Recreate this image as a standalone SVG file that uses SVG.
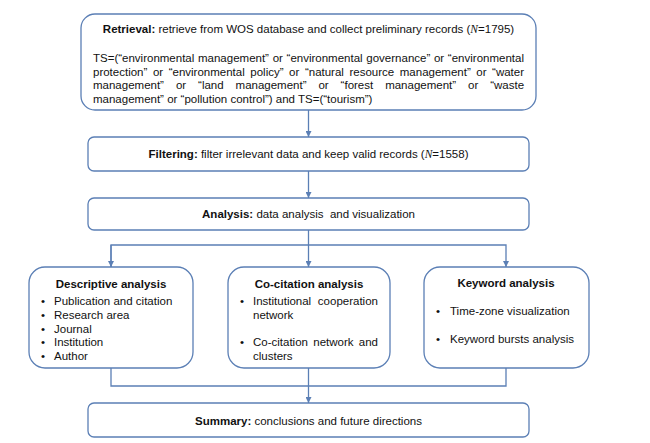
<svg xmlns="http://www.w3.org/2000/svg" width="650" height="443" viewBox="0 0 650 443">
<defs>
<style>
.box{fill:#ffffff;stroke:#5b7fb5;stroke-width:1.3}
.ln{fill:none;stroke:#5b7fb5;stroke-width:1.3}
text{font-family:"Liberation Sans",Arial,sans-serif;font-size:11.5px;fill:#111111}
.b{font-weight:bold}
.c{text-anchor:middle}
.n{font-style:italic;font-family:"Liberation Serif","Times New Roman",serif}
</style>
<marker id="ah" viewBox="0 0 10 10" refX="10" refY="5" markerWidth="6" markerHeight="6" markerUnits="userSpaceOnUse" orient="auto">
<path d="M0,0 L10,5 L0,10 z" fill="#5b7fb5"/>
</marker>
</defs>
<rect width="650" height="443" fill="#ffffff"/>
<g id="connectors">
<line class="ln" x1="308.5" y1="110" x2="308.5" y2="137" marker-end="url(#ah)"/>
<line class="ln" x1="308.5" y1="171" x2="308.5" y2="198" marker-end="url(#ah)"/>
<line class="ln" x1="308.5" y1="230" x2="308.5" y2="267" marker-end="url(#ah)"/>
<polyline class="ln" points="111,267 111,245 506,245 506,267" marker-end="url(#ah)"/>
<line class="ln" x1="111" y1="245" x2="111" y2="267" marker-end="url(#ah)"/>
<polyline class="ln" points="111,368 111,386 506,386 506,368"/>
<line class="ln" x1="308.5" y1="368" x2="308.5" y2="403" marker-end="url(#ah)"/>
</g>
<g id="retrieval">
<rect class="box" x="81" y="14" width="455" height="96" rx="14"/>
<text class="c" x="308.5" y="33"><tspan class="b">Retrieval:</tspan> retrieve from WOS database and collect preliminary records (<tspan class="n">N</tspan>=1795)</text>
<text x="93" y="62" word-spacing="0.5">TS=(“environmental management” or “environmental governance” or “environmental</text>
<text x="93" y="75.5" word-spacing="2.37">protection” or “environmental policy” or “natural resource management” or “water</text>
<text x="93" y="89" word-spacing="8.74">management” or “land management” or “forest management” or “waste</text>
<text x="93" y="102.5">management” or “pollution control”) and TS=(“tourism”)</text>
</g>
<g id="filtering">
<rect class="box" x="88" y="137" width="441" height="34" rx="6"/>
<text class="c" x="308.5" y="158"><tspan class="b">Filtering:</tspan> filter irrelevant data and keep valid records (<tspan class="n">N</tspan>=1558)</text>
</g>
<g id="analysis">
<rect class="box" x="88" y="198" width="441" height="32" rx="6"/>
<text class="c" x="308.5" y="218" xml:space="preserve"><tspan class="b">Analysis:</tspan> data analysis  and visualization</text>
</g>
<g id="descriptive">
<rect class="box" x="29" y="267" width="164" height="101" rx="16"/>
<text class="c b" x="111" y="288">Descriptive analysis</text>
<text x="41" y="305">•</text><text x="54" y="305">Publication and citation</text>
<text x="41" y="319">•</text><text x="54" y="319">Research area</text>
<text x="41" y="333">•</text><text x="54" y="333">Journal</text>
<text x="41" y="346">•</text><text x="54" y="346">Institution</text>
<text x="41" y="360">•</text><text x="54" y="360">Author</text>
</g>
<g id="cocitation">
<rect class="box" x="228" y="267" width="162" height="101" rx="16"/>
<text class="c b" x="309" y="288">Co-citation analysis</text>
<text x="240" y="305">•</text><text x="253" y="305" word-spacing="3.5">Institutional cooperation</text>
<text x="253" y="319">network</text>
<text x="240" y="346">•</text><text x="253" y="346" word-spacing="2.1">Co-citation network and</text>
<text x="253" y="360">clusters</text>
</g>
<g id="keyword">
<rect class="box" x="424" y="267" width="165" height="101" rx="16"/>
<text class="c b" x="506" y="287">Keyword analysis</text>
<text x="436" y="315">•</text><text x="450" y="315">Time-zone visualization</text>
<text x="436" y="343">•</text><text x="450" y="343">Keyword bursts analysis</text>
</g>
<g id="summary">
<rect class="box" x="88" y="403" width="441" height="34" rx="6"/>
<text class="c" x="308.5" y="424.5"><tspan class="b">Summary:</tspan> conclusions and future directions</text>
</g>
</svg>
